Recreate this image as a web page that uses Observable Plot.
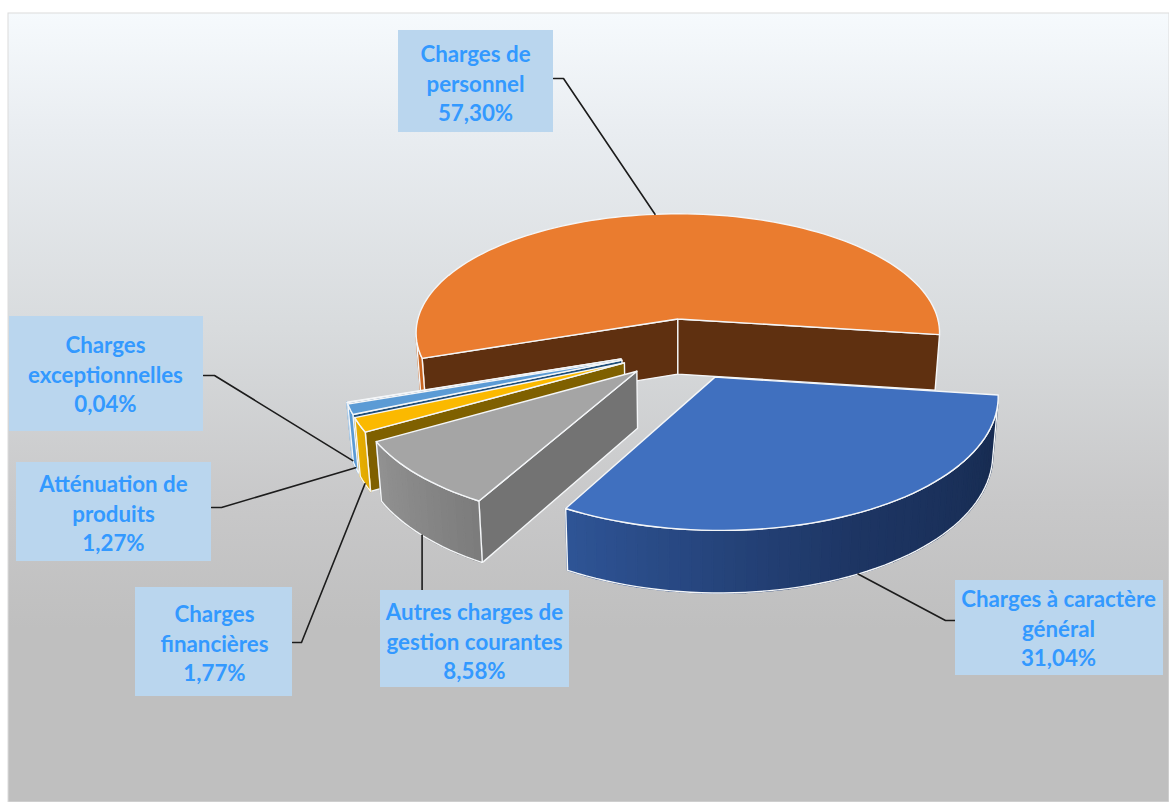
<!DOCTYPE html>
<html lang="fr">
<head>
<meta charset="utf-8">
<script src="https://cdn.jsdelivr.net/npm/d3@7"></script>
<script src="https://cdn.jsdelivr.net/npm/@observablehq/plot@0.6"></script>
<style>html,body{margin:0;padding:0;background:#fff}svg{display:block}</style>
</head>
<body>
<div id="chart"></div>
<script>
// Data, clockwise from "Charges à caractère général"
const categories = [
  "Charges à caractère\ngénéral",
  "Autres charges de\ngestion courantes",
  "Charges\nfinancières",
  "Atténuation de\nproduits",
  "Charges\nexceptionnelles",
  "Charges de\npersonnel"
];
const shares = [31.04, 8.58, 1.77, 1.27, 0.04, 57.30];
const topColors = ["#4070bf", "#a5a5a5", "#fbb900", "#5b9bd5", "#eaf2fa", "#ea7c2f"];
const radialWallColors = ["#2b4f8d", "#737373", "#7f6000", "#1f4e79", "#1f4e79", "#5f3010"];
const outerWallFrom = ["#162a4e", "#7c7c7c", "#e0a800", "#5b9bd5", "#5b9bd5", "#c9641f"];
const outerWallMid = ["#1d3563", "#888888", "#e4ac00", "#5b9bd5", "#5b9bd5", "#c9641f"];
const outerWallTo = ["#2f5597", "#929292", "#e8b000", "#5b9bd5", "#5b9bd5", "#c9641f"];

// Label boxes [x1, x2, y1, y2], text centre [x, y], leader stub and depth of the leader tip on the slice
const boxX1 = [955, 380, 135, 16, 9, 398];
const boxX2 = [1163, 569, 292, 211, 203, 553];
const boxY1 = [580, 590, 587, 462, 316, 30];
const boxY2 = [675, 687, 696, 561, 431, 132];
const textX = [1058, 474, 214, 113, 105, 475];
const textY = [627, 640, 642, 512, 373, 82];
const stubFromX = [955, null, 292, 211, 203, 553];
const stubToX = [945, null, 301, 221, 214, 563];
const stubY = [620, null, 642, 507, 375, 78];
const tipDepth = [1, 1, 1, 1, 1, 0];

// Scene
const W = 1169, HT = 802;
const cx = 678, cy = 317, Rx = 257, Ry = 116, persp = 0.115, wallH = 55;
const startAngle = 7.5, explode = 0.25, centreU = 0.022, centreV = 0.262;
const radius = i => (i === 5 ? 1.01 : 1.03);

const rad = a => a * Math.PI / 180;
function project(u, v, z) {
  const d = 1 - persp * v;
  return [cx + Rx * u / d * (1 - 0.017 * z), cy + Ry * v / d + z * wallH / (1 - 0.08 * v)];
}
let acc = startAngle;
const slices = shares.map((s, i) => {
  const a0 = acc, a1 = acc + s * 3.6; acc = a1;
  const mid = (a0 + a1) / 2;
  const au = centreU + explode * Math.cos(rad(mid));
  const av = centreV + explode * Math.sin(rad(mid));
  const r = radius(i);
  const at = (a, z) => project(au + r * Math.cos(rad(a)), av + r * Math.sin(rad(a)), z);
  const apex = z => project(au, av, z);
  return {i, a0, a1, mid, at, apex};
});

const rows = [];
let pid = 0;
function poly(pts, fill, stroke, sw) {
  const id = pid++;
  [...pts, pts[0]].forEach(p => rows.push({id, x: p[0], y: p[1], fill, stroke, sw}));
}
const facing = pts => d3.polygonArea(pts) > 0;
// painter's order: back slice first, then the thin ones, then the front ones
for (const i of [5, 4, 3, 2, 1, 0]) {
  const s = slices[i];
  const n = Math.max(2, Math.ceil((s.a1 - s.a0) / 2));
  const ang = d3.range(n + 1).map(j => s.a0 + (s.a1 - s.a0) * j / n);
  const edge = "#f4f6f8";
  // radial walls
  const qa = [s.apex(0), s.at(s.a0, 0), s.at(s.a0, 1), s.apex(1)];
  const qb = [s.at(s.a1, 0), s.apex(0), s.apex(1), s.at(s.a1, 1)];
  for (const q of [qa, qb]) if (facing(q)) poly(q, radialWallColors[i], edge, 1.4);
  // outer wall
  const col = d3.piecewise(d3.interpolateRgb, [outerWallFrom[i], outerWallMid[i], outerWallTo[i]]);
  const vis = [];
  for (let j = 0; j < n; j++) {
    const q = [s.at(ang[j], 0), s.at(ang[j + 1], 0), s.at(ang[j + 1], 1), s.at(ang[j], 1)];
    if (facing(q)) {
      const c = d3.rgb(col(j / n)).formatHex();
      poly(q, c, c, 1.6);
      vis.push(j);
    }
  }
  if (vis.length) {
    const aj = [...vis, vis[vis.length - 1] + 1].map(j => ang[j]);
    const outline = [...aj.map(a => s.at(a, 0)), ...aj.slice().reverse().map(a => s.at(a, 1))];
    poly(outline, "none", edge, 1.4);
  }
  // top face
  poly([s.apex(0), ...ang.map(a => s.at(a, 0))], topColors[i], edge, 1.4);
}

const labels = categories.map((c, i) => ({
  text: `${c}\n${shares[i].toFixed(2).replace(".", ",")}%`,
  x1: boxX1[i], x2: boxX2[i], y1: boxY1[i], y2: boxY2[i], tx: textX[i], ty: textY[i]
}));
const leaders = categories.flatMap((c, i) => {
  const tip = slices[i].at(slices[i].mid, tipDepth[i]);
  const pts = stubY[i] == null
    ? [[tip[0], boxY1[i]], tip]
    : [[stubFromX[i], stubY[i]], [stubToX[i], stubY[i]], tip];
  return pts.map(p => ({id: i, x: p[0], y: p[1]}));
});

const chart = Plot.plot({
  width: W, height: HT,
  margin: 0,
  style: {background: "#fff"},
  x: {domain: [0, W], range: [0, W], axis: null},
  y: {domain: [0, HT], range: [0, HT], axis: null},
  color: {type: "identity"},
  marks: [
    () => {
      const defs = d3.create("svg:defs");
      const g = defs.append("linearGradient").attr("id", "bg").attr("x1", 0).attr("x2", 0).attr("y1", 0).attr("y2", 1);
      [[0, "#f6fafd"], [0.15, "#e9edf1"], [0.4, "#d8dbdd"], [0.62, "#c8c8c9"], [0.78, "#bfbfbf"], [1, "#bfbfbf"]]
        .forEach(([o, c]) => g.append("stop").attr("offset", o).attr("stop-color", c));
      return defs.node();
    },
    Plot.rect([{x1: 8, x2: W, y1: 13, y2: HT}], {x1: "x1", x2: "x2", y1: "y1", y2: "y2", fill: () => "url(#bg)", stroke: "#dcdcdc", strokeWidth: 1}),
    Plot.line(rows, {x: "x", y: "y", z: "id", fill: "fill", stroke: "stroke", strokeWidth: "sw", strokeLinejoin: "round", curve: "linear"}),
    Plot.line(leaders, {x: "x", y: "y", z: "id", stroke: "#1c1c1c", strokeWidth: 1.6}),
    Plot.rect(labels, {x1: "x1", x2: "x2", y1: "y1", y2: "y2", fill: "#bad6ee"}),
    Plot.text(labels, {x: "tx", y: "ty", text: "text", fill: "#3399ff", fontSize: 22.3, fontWeight: "bold", fontFamily: "Lato", lineHeight: 1.32, textAnchor: "middle"})
  ]
});
document.getElementById("chart").append(chart);
</script>
</body>
</html>
